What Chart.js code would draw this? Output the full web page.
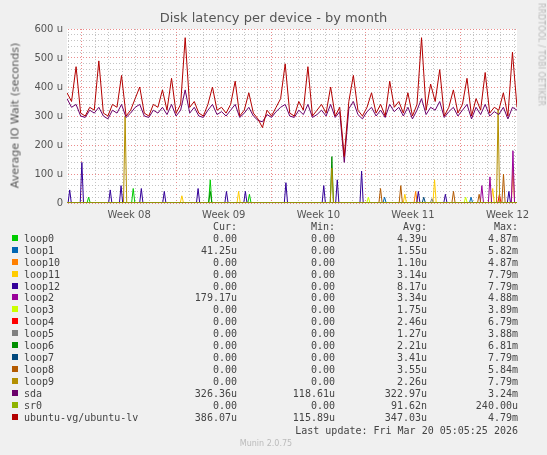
<!DOCTYPE html>
<html>
<head>
<meta charset="utf-8">
<script src="https://cdn.jsdelivr.net/npm/chart.js@4/dist/chart.umd.min.js"></script>
<style>
  body { margin: 0; background: #f0f0f0; font-family: "DejaVu Sans", sans-serif; }
  #wrap { position: relative; width: 547px; height: 455px; }
  canvas { position: absolute; left: 0; top: 0; }
  .t { position: absolute; color: #555; white-space: nowrap; }
  #legend { position: absolute; left: 12px; top: 221px; font-family: "DejaVu Sans Mono", monospace; font-size: 10px; color: #444; border-collapse: collapse; }
  #legend td { padding: 0; height: 11.9px; line-height: 11.9px; }
  #legend td.n { text-align: right; }
  .sw { display: inline-block; width: 6px; height: 6px; margin-right: 6px; vertical-align: 1px; }
</style>
</head>
<body>
<div id="wrap">
  <canvas id="chart" width="547" height="455"></canvas>
  <div class="t" style="left:0;width:547px;top:10px;text-align:center;font-size:13px;">Disk latency per device - by month</div>
  <div class="t" style="left:-85px;top:109px;width:200px;text-align:center;font-size:11px;transform:rotate(-90deg);">Average IO Wait (seconds)</div>
  <div class="t" style="left:446px;top:50px;width:190px;text-align:center;font-size:8px;color:#bbb;transform:rotate(90deg);">RRDTOOL / TOBI OETIKER</div>
  <table id="legend"></table>
  <div class="t" style="right:29px;top:425px;font-family:'DejaVu Sans Mono',monospace;font-size:10px;color:#444;">Last update: Fri Mar 20 05:05:25 2026</div>
  <div class="t" style="left:0;width:532px;top:439px;text-align:center;font-size:8px;color:#bbb;">Munin 2.0.75</div>
</div>
<script>
const spanDays = 33.3;
const weekLabels = ['Week 08', 'Week 09', 'Week 10', 'Week 11', 'Week 12'];
const names = ['loop0', 'loop1', 'loop10', 'loop11', 'loop12', 'loop2', 'loop3', 'loop4', 'loop5', 'loop6', 'loop7', 'loop8', 'loop9', 'sda', 'sr0', 'ubuntu-vg/ubuntu-lv'];
const colors = ['#00cc00', '#0066b3', '#ff8000', '#ffcc00', '#330099', '#990099', '#ccff00', '#ff0000', '#808080', '#008f00', '#00487d', '#b35a00', '#b38f00', '#6b006b', '#8fb300', '#b30000'];
const curVals = ['0.00', '41.25u', '0.00', '0.00', '0.00', '179.17u', '0.00', '0.00', '0.00', '0.00', '0.00', '0.00', '0.00', '326.36u', '0.00', '386.07u'];
const minVals = ['0.00', '0.00', '0.00', '0.00', '0.00', '0.00', '0.00', '0.00', '0.00', '0.00', '0.00', '0.00', '0.00', '118.61u', '0.00', '115.89u'];
const avgVals = ['4.39u', '1.55u', '1.10u', '3.14u', '8.17u', '3.34u', '1.75u', '2.46u', '1.27u', '2.21u', '3.41u', '3.55u', '2.26u', '322.97u', '91.62n', '347.03u'];
const maxVals = ['4.87m', '5.82m', '4.87m', '7.79m', '7.79m', '4.88m', '3.89m', '6.79m', '3.88m', '6.81m', '7.79m', '5.84m', '7.79m', '3.24m', '240.00u', '4.79m'];

// dense series, microseconds
const lv = [380,350,470,310,300,330,320,490,310,300,340,330,440,300,320,360,400,310,300,340,330,390,320,430,310,340,570,330,350,310,300,340,400,320,330,310,340,420,300,320,380,310,290,260,320,300,330,360,480,310,300,350,320,470,300,320,340,310,400,300,330,160,350,440,320,300,330,380,310,340,300,420,330,350,310,380,300,340,570,320,410,350,460,300,330,390,310,340,430,300,360,320,450,310,330,320,380,300,520,330];
const sda = [360,330,340,300,295,320,310,330,300,290,320,310,340,295,310,330,340,300,295,320,310,330,305,340,300,320,390,310,330,300,295,320,340,305,315,300,320,340,295,310,330,300,285,280,305,295,315,330,340,300,295,320,305,340,295,305,320,300,340,295,315,140,325,350,305,290,315,330,300,320,295,340,315,330,300,330,290,320,360,305,330,320,350,295,315,330,300,320,340,290,330,305,340,300,315,305,330,290,330,320];
// sparse series: [day, value]
const spikes = {
  loop0: [[1.6, 20], [4.9, 50], [10.6, 80], [13.5, 30]],
  loop1: [[23.5, 20], [29.9, 20]],
  loop10: [[25.8, 40], [33.0, 120]],
  loop11: [[8.5, 25], [12.7, 40], [25.0, 30], [27.2, 80], [31.5, 50]],
  loop12: [[0.2, 45], [1.1, 140], [3.2, 45], [4.0, 60], [5.5, 50], [7.2, 40], [9.7, 50], [11.8, 40], [13.2, 40], [16.2, 70], [19.0, 60], [20.0, 80], [21.8, 110], [26.0, 40], [28.0, 30], [32.7, 40]],
  loop2: [[30.7, 60], [31.3, 90], [33.0, 180]],
  loop3: [[22.3, 20], [29.5, 20]],
  loop4: [[32.0, 30]],
  loop5: [[27.0, 15]],
  loop6: [[10.6, 40], [19.6, 160]],
  loop7: [[26.4, 20]],
  loop8: [[23.2, 50], [24.7, 60], [28.6, 40], [30.5, 30], [32.3, 100]],
  loop9: [[4.3, 300], [19.6, 120], [31.9, 320]],
  sr0: [],
};

function denseToXY(arr) {
  return arr.map((v, i) => ({ x: i * spanDays / (arr.length - 1), y: v }));
}
function spikesToXY(list) {
  const pts = [{ x: 0, y: 0 }];
  list.slice().sort((a, b) => a[0] - b[0]).forEach(([d, v]) => {
    pts.push({ x: d - 0.12, y: 0 }, { x: d, y: v }, { x: d + 0.12, y: 0 });
  });
  pts.push({ x: spanDays, y: 0 });
  return pts;
}

const datasets = names.map((n, i) => ({
  label: n,
  data: n === 'sda' ? denseToXY(sda) : n === 'ubuntu-vg/ubuntu-lv' ? denseToXY(lv) : spikesToXY(spikes[n]),
  borderColor: colors[i],
  borderWidth: 1,
  pointRadius: 0,
  fill: false,
  order: names.length - i,
}));

// white plot area
const plotBg = {
  id: 'plotBg',
  beforeDraw(chart) {
    const { ctx, chartArea: a } = chart;
    ctx.save();
    ctx.fillStyle = '#fff';
    ctx.fillRect(a.left, a.top, a.width, a.height);
    ctx.restore();
  },
};

const firstWeek = 1.1;
new Chart(document.getElementById('chart'), {
  type: 'line',
  data: { datasets },
  plugins: [plotBg],
  options: {
    responsive: false,
    animation: false,
    layout: { padding: { top: 29, right: 30, left: 0, bottom: 0 } },
    plugins: { legend: { display: false }, tooltip: { enabled: false } },
    scales: {
      x: {
        type: 'linear', min: 0, max: spanDays,
        afterBuildTicks: (s) => {
          const t = [];
          for (let v = firstWeek - 1; v <= spanDays; v += 0.5) t.push({ value: +v.toFixed(2) });
          s.ticks = t;
        },
        afterFit: (s) => { s.height = 252; },
        grid: {
          drawTicks: false,
          color: (c) => {
            const r = Math.round((c.tick.value - firstWeek) * 2) / 2;
            if (Math.abs(r - Math.round(r)) > 0.01) return 'rgba(0,0,0,0)';
            return (Math.round(r) % 7 === 0) ? 'rgba(230,110,110,0.8)' : 'rgba(190,190,190,0.9)';
          },
        },
        border: { display: true, dash: [1, 2], color: 'rgba(0,0,0,0)' },
        ticks: {
          autoSkip: false, maxRotation: 0, color: '#555', font: { size: 10, family: 'DejaVu Sans' }, padding: 6,
          callback: (v) => {
            const k = Math.round((v - firstWeek - 3.5) * 2) / 2;
            if (k >= 0 && k % 7 === 0) return weekLabels[k / 7] || '';
            return '';
          },
        },
      },
      y: {
        min: 0, max: 600,
        afterFit: (s) => { s.width = 67; },
        ticks: {
          stepSize: 20, autoSkip: false, color: '#555', font: { size: 10, family: 'DejaVu Sans' }, padding: 4,
          callback: (v) => v % 100 === 0 ? (v === 0 ? '0' : v + ' u') : '',
        },
        grid: {
          drawTicks: false,
          color: (c) => c.tick.value % 100 === 0 ? 'rgba(230,110,110,0.8)' : 'rgba(190,190,190,0.9)',
        },
        border: { display: true, dash: [1, 2], color: 'rgba(0,0,0,0)' },
      },
    },
  },
});

const tbl = document.getElementById('legend');
let html = '<tr><td style="width:150px"></td><td class="n" style="width:75px">Cur:</td><td class="n" style="width:98px">Min:</td><td class="n" style="width:92px">Avg:</td><td class="n" style="width:91px">Max:</td></tr>';
names.forEach((n, i) => {
  html += `<tr><td><span class="sw" style="background:${colors[i]}"></span>${n}</td><td class="n">${curVals[i]}</td><td class="n">${minVals[i]}</td><td class="n">${avgVals[i]}</td><td class="n">${maxVals[i]}</td></tr>`;
});
tbl.innerHTML = html;
</script>
</body>
</html>
